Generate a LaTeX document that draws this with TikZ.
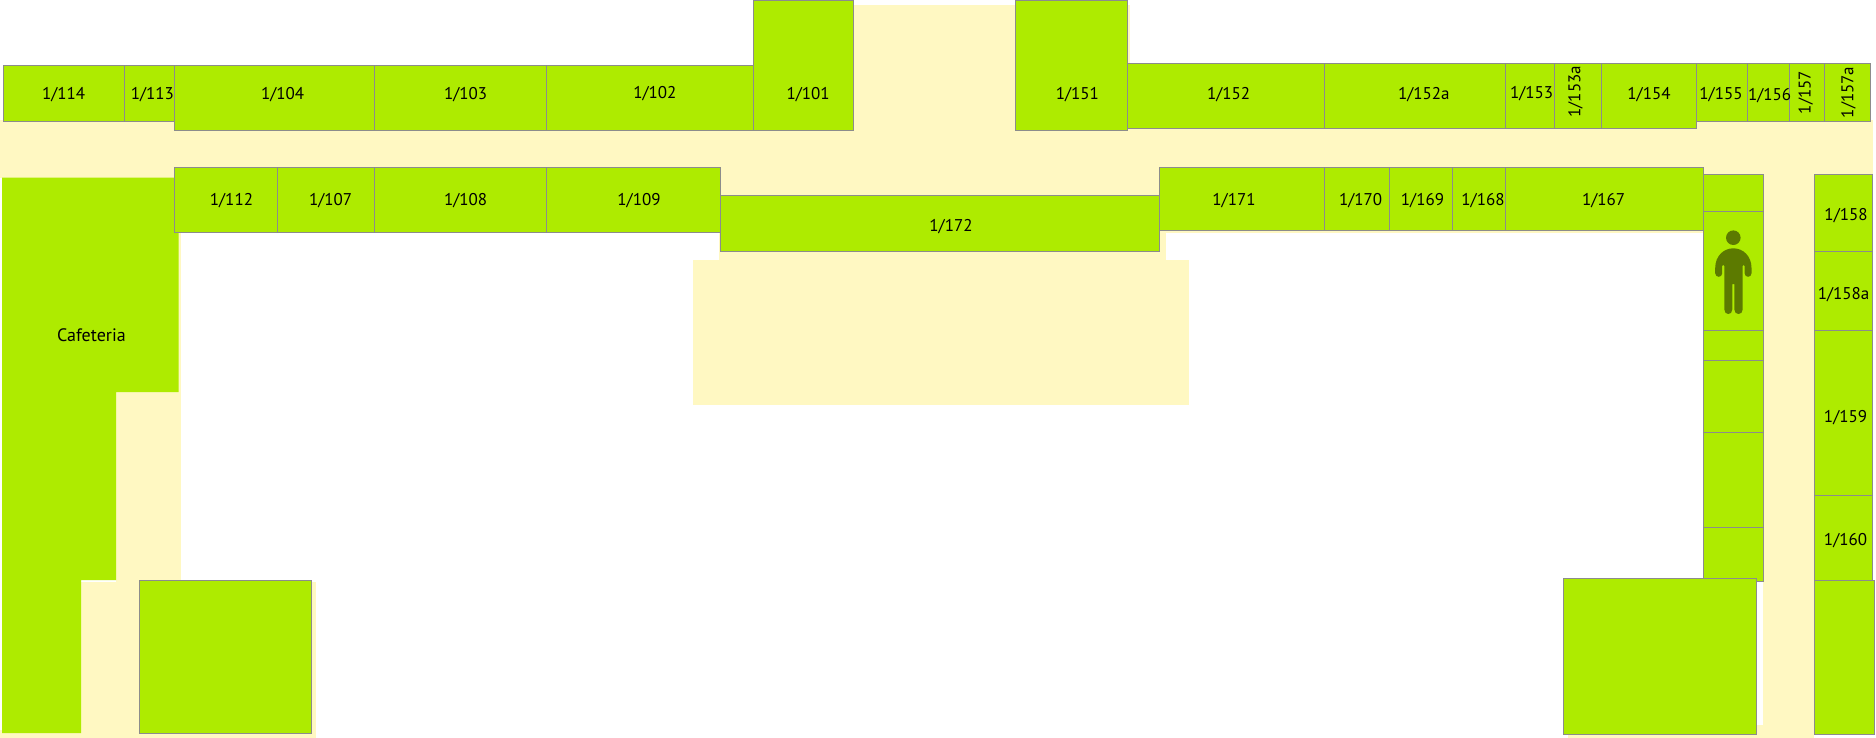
\documentclass[tikz,border=0pt]{standalone}
\usepackage{fontspec}
\setmainfont{PT Sans}
\definecolor{roomgreen}{RGB}{174,235,0}
\definecolor{hall}{RGB}{255,248,194}
\definecolor{wall}{RGB}{140,140,140}
\definecolor{personcol}{RGB}{92,122,0}
\tikzset{
  x=1pt,y=-1pt,
  roombox/.style={fill=roomgreen,draw=wall,line width=0.9pt},
  hallfill/.style={fill=hall},
  lab/.style={inner sep=0pt,text=black,yshift=-1.6pt,font=\fontsize{17}{17}\selectfont},
  vlab/.style={inner sep=0pt,text=black,xshift=-1.2pt,rotate=90,font=\fontsize{17}{17}\selectfont},
  cafelab/.style={lab,font=\fontsize{18}{18}\selectfont}
}
\newcommand{\roomat}[4]{\draw[roombox] (#1,#2) rectangle (#3,#4);}
\begin{document}
\begin{tikzpicture}
\useasboundingbox (0,0) rectangle (1876,738);
\fill[white] (0,0) rectangle (1876,738);
% halls
\fill[hallfill] (0,120) rectangle (1872.5,178);
\fill[hallfill] (853,4.7) rectangle (1130,130);
\fill[hallfill] (718.5,120) rectangle (1166,261);
\fill[hallfill] (693,260.3) rectangle (1189,405);
\fill[hallfill] (1160,225) rectangle (1703,233);
\fill[hallfill] (116,232) rectangle (181.3,582);
\fill[hallfill] (81,581.7) rectangle (316,738);
\fill[hallfill] (0,730) rectangle (316,738);
\fill[hallfill] (1763,130) rectangle (1814.3,738);
\fill[hallfill] (1568,725) rectangle (1814.3,738);
% cafeteria
\fill[roomgreen] (2,177.7) -- (178.7,177.7) -- (178.7,392) -- (116,392) -- (116,580) -- (81,580) -- (81,733) -- (2,733) -- cycle;
% top row
\roomat{3}{65.3}{124}{121}
\roomat{124}{65.3}{174.5}{121.5}
\roomat{174.5}{65.3}{374.5}{130.3}
\roomat{374.5}{65.3}{546.5}{130.3}
\roomat{546.5}{65.3}{753.3}{130.3}
\roomat{753.3}{0.7}{853.7}{130.3}
\roomat{1015.4}{0.7}{1127.3}{130.3}
\roomat{1127.3}{63}{1324.4}{128.3}
\roomat{1324.4}{63}{1505.7}{128.3}
\roomat{1505.7}{63}{1554.8}{128.3}
\roomat{1554.8}{63}{1601}{128.3}
\roomat{1601}{63}{1696.4}{128.3}
\roomat{1696.4}{63}{1747.5}{121.3}
\roomat{1747.5}{63}{1789.7}{121.3}
\roomat{1789.7}{63}{1824.2}{121.3}
\roomat{1824.2}{63}{1870.8}{121.3}
% lower row
\roomat{174.5}{167.3}{277}{232.3}
\roomat{277}{167.3}{374.5}{232.3}
\roomat{374.5}{167.3}{546.5}{232.3}
\roomat{546.5}{167.3}{720.8}{232.3}
\roomat{720.8}{195.3}{1159.7}{251}
\roomat{1159.7}{167.3}{1324.4}{230.5}
\roomat{1324.4}{167.3}{1389.3}{230.5}
\roomat{1389.3}{167.3}{1452.2}{230.5}
\roomat{1452.2}{167.3}{1505.7}{230.5}
\roomat{1505.7}{167.3}{1703.3}{230.5}
% service column
\roomat{1703.3}{174.3}{1763.7}{211.7}
\roomat{1703.3}{211.7}{1763.7}{330}
\roomat{1703.3}{330}{1763.7}{360.3}
\roomat{1703.3}{360.3}{1763.7}{432.3}
\roomat{1703.3}{432.3}{1763.7}{527.3}
\roomat{1703.3}{527.3}{1763.7}{581}
% right column
\roomat{1814.3}{174.3}{1872.7}{251.3}
\roomat{1814.3}{251.3}{1872.7}{330}
\roomat{1814.3}{330}{1872.7}{495.3}
\roomat{1814.3}{495.3}{1872.7}{580.7}
\roomat{1814.3}{580.7}{1874.7}{734}
% large rooms
\roomat{139}{580}{311}{733.3}
\roomat{1563.7}{578.7}{1756.7}{734}
% person
\fill[personcol] (1733.3,237.7) circle (7.3);
\fill[personcol] (1733.3,248.3)
  .. controls (1743,248.3) and (1751.5,256) .. (1751.5,268)
  -- (1751.5,273.2) .. controls (1751.5,278) and (1744.6,278) .. (1744.6,273.2)
  -- (1744.6,266) .. controls (1744.6,264.5) and (1742.7,264.5) .. (1742.7,266)
  -- (1742.7,309.5) .. controls (1742.7,315.5) and (1734.3,315.5) .. (1734.3,309.5)
  -- (1734.3,284) -- (1732.3,284) -- (1732.3,309.5)
  .. controls (1732.3,315.5) and (1724.3,315.5) .. (1724.3,309.5)
  -- (1724.3,266) .. controls (1724.3,264.5) and (1722.2,264.5) .. (1722.2,266)
  -- (1722.2,273.2) .. controls (1722.2,278) and (1715.2,278) .. (1715.2,273.2)
  -- (1715.2,268) .. controls (1715.2,256) and (1723.6,248.3) .. (1733.3,248.3) -- cycle;
% labels
\node[lab] (t114) at (63.7,93.3) {1/114};
\node[lab] (t113) at (152.4,93.3) {1/113};
\node[lab] (t104) at (282.7,93.3) {1/104};
\node[lab] (t103) at (465.6,93.3) {1/103};
\node[lab] (t102) at (654.8,92) {1/102};
\node[lab] (t101) at (808.2,93.3) {1/101};
\node[lab] (t151) at (1077.3,93.3) {1/151};
\node[lab] (t152) at (1228.6,93.3) {1/152};
\node[lab] (t152a) at (1423.8,93.3) {1/152a};
\node[lab] (t153) at (1531.7,92.3) {1/153};
\node[vlab] (t153a) at (1576.7,91.7) {1/153a};
\node[lab] (t154) at (1649,93) {1/154};
\node[lab] (t155) at (1721,92.7) {1/155};
\node[lab] (t156) at (1769.6,94) {1/156};
\node[vlab] (t157) at (1807,92.7) {1/157};
\node[vlab] (t157a) at (1849.7,92.7) {1/157a};
\node[lab] (t112) at (231.5,199) {1/112};
\node[lab] (t107) at (330.6,199) {1/107};
\node[lab] (t108) at (465.6,199) {1/108};
\node[lab] (t109) at (639,199) {1/109};
\node[lab] (t172) at (951,225.3) {1/172};
\node[lab] (t171) at (1234,199) {1/171};
\node[lab] (t170) at (1360.7,199.3) {1/170};
\node[lab] (t169) at (1422.5,199.3) {1/169};
\node[lab] (t168) at (1483,199.3) {1/168};
\node[lab] (t167) at (1603.7,199.3) {1/167};
\node[lab] (t158) at (1846,214) {1/158};
\node[lab] (t158a) at (1843.6,293.3) {1/158a};
\node[lab] (t159) at (1845.5,416) {1/159};
\node[lab] (t160) at (1845.5,539) {1/160};
\node[cafelab] (tcaf) at (91.5,334) {Cafeteria};
\end{tikzpicture}
\end{document}
